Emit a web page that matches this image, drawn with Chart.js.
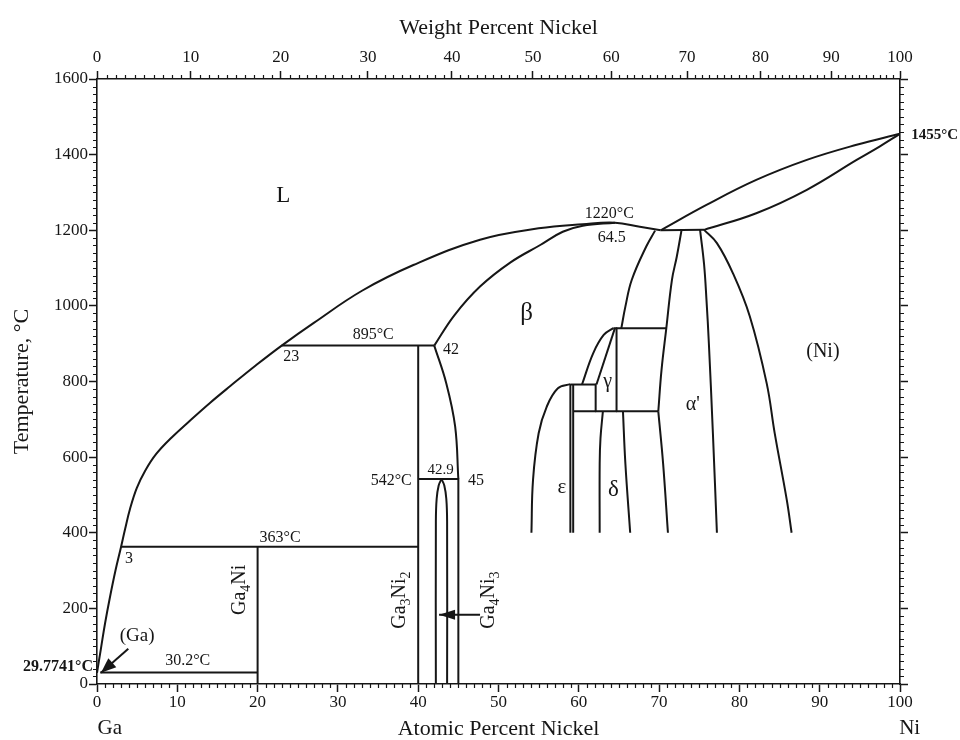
<!DOCTYPE html>
<html>
<head>
<meta charset="utf-8">
<title>Ga-Ni Phase Diagram</title>
<script src="https://cdn.jsdelivr.net/npm/chart.js@4.4.1/dist/chart.umd.min.js"></script>
<style>
  html, body { margin: 0; padding: 0; background: #ffffff; }
  #wrap { width: 960px; height: 740px; }
</style>
</head>
<body>
<div id="wrap"><canvas id="diagram" width="960" height="740"></canvas></div>
<script>
// ---- axis ticks ----
const atomicTickLabels = [0, 10, 20, 30, 40, 50, 60, 70, 80, 90, 100];
const weightTickLabels = [0, 10, 20, 30, 40, 50, 60, 70, 80, 90, 100];
const tempTickLabels = [0, 200, 400, 600, 800, 1000, 1200, 1400, 1600];

// ---- invariant points ----
const tGaMelt = 29.7741;
const tNiMelt = 1455;
const tEutectic = 30.2;
const tGa4Ni = 363;
const tGa3Ni2 = 895;
const tGa4Ni3 = 542;
const tBetaMax = 1220;
const xGa4Ni = 20;
const xGa3Ni2 = 40;
const xLiq363 = 3;
const xLiq895 = 23;
const xBeta895 = 42;
const xBeta542 = 45;
const xGa4Ni3 = 42.9;
const xBetaMax = 64.5;

// ---- phase boundaries [at.% Ni, °C] ----
const liquidusGaSide = [[0, tGaMelt], [0.5, 95], [1.0, 160], [1.6, 228], [2.3, 300], [xLiq363, tGa4Ni],
  [3.5, 410], [4.1, 462], [4.95, 518], [6.0, 564], [7.4, 609], [9.3, 652], [11.6, 697], [14.1, 744],
  [16.6, 788], [19.8, 843], [xLiq895, tGa3Ni2], [27, 955], [33, 1040], [39.4, 1108], [47.7, 1175],
  [55, 1205], [60.5, 1216], [xBetaMax, tBetaMax], [67.6, 1209], [70.2, 1200]];
const liquidusNiSide = [[70.2, 1200], [75.9, 1267], [82.1, 1333], [88.4, 1386], [94.6, 1426], [100, tNiMelt]];
const solidusNi = [[75.6, 1201], [82.1, 1245], [88.4, 1307], [94.6, 1386], [97.5, 1422], [100, tNiMelt]];
const betaSolidus = [[xBeta895, tGa3Ni2], [44.5, 975], [47.7, 1051], [51.5, 1115], [55.2, 1161],
  [58, 1196], [60.5, 1212], [xBetaMax, tBetaMax]];
const betaSolvusLow = [[xBeta895, tGa3Ni2], [43.5, 795], [44.6, 681], [xBeta542, tGa4Ni3]];
const betaEdge45 = [[xBeta542, tGa4Ni3], [xBeta542, 0]];
const ga3ni2Line = [[xGa3Ni2, 0], [xGa3Ni2, tGa3Ni2]];
const ga4niLine = [[xGa4Ni, 0], [xGa4Ni, tGa4Ni]];
const peritectic895 = [[xLiq895, tGa3Ni2], [xBeta895, tGa3Ni2]];
const peritectic363 = [[xLiq363, tGa4Ni], [xGa3Ni2, tGa4Ni]];
const eutectic30 = [[0.4, tEutectic], [xGa4Ni, tEutectic]];
const reaction542 = [[xGa3Ni2, tGa4Ni3], [xBeta542, tGa4Ni3]];
const ga4ni3Left = [[42.2, 0], [42.2, 430], [42.3, 490], [42.55, 525], [xGa4Ni3, tGa4Ni3]];
const ga4ni3Right = [[43.6, 0], [43.6, 430], [43.5, 490], [43.25, 525], [xGa4Ni3, tGa4Ni3]];
const reaction1200 = [[70.2, 1200], [75.6, 1201]];
const betaRight = [[69.5, 1199], [68.4, 1157], [66.6, 1069], [65.8, 998], [65.3, 941]];
const alphaLeftUpper = [[72.8, 1201], [72.2, 1130], [71.6, 1069], [70.9, 941], [70.3, 830], [69.9, 721]];
const alphaLeftLower = [[69.9, 721], [70.5, 583], [71.1, 400]];
const alphaRight = [[75.1, 1201], [75.6, 1110], [75.9, 1016], [76.2, 900], [76.7, 663], [77.2, 400]];
const niSolvus = [[75.6, 1201], [77.2, 1166], [79.2, 1086], [81.3, 972], [83.4, 795], [84.4, 663],
  [85.9, 487], [86.5, 400]];
const epsLeft = [[54.1, 400], [54.3, 540], [55.0, 663], [56.0, 733], [57.4, 782], [58.95, 793]];
const epsLineA = [[58.95, 400], [58.95, 793]];
const epsLineB = [[59.3, 400], [59.3, 792]];
const reaction792 = [[58.95, 792], [62.1, 792]];
const boxRight = [[62.1, 792], [62.1, 721]];
const reaction721 = [[59.3, 721], [69.9, 721]];
const gammaCurve = [[60.4, 792], [61.8, 875], [63.1, 923], [64.3, 941]];
const gammaDiagonal = [[62.2, 792], [64.5, 941]];
const gammaRight = [[64.7, 941], [64.7, 721]];
const reaction941 = [[64.3, 941], [70.9, 941]];
const deltaLeft = [[63.0, 721], [62.7, 650], [62.6, 583], [62.6, 400]];
const deltaRight = [[65.5, 721], [65.8, 583], [66.4, 400]];

// ---- label arrows ----
const arrowGa = [[3.9, 93], [0.5, 30]];
const arrowGa4Ni3 = [[47.7, 183], [42.6, 183]];

// ---- composition conversion for the weight-percent axis ----
const M_GA = 69.723, M_NI = 58.6934;
function wtToAt(w) {
  const a = w / M_NI, b = (100 - w) / M_GA;
  return 100 * a / (a + b);
}

const SERIF = '"Liberation Serif", "Times New Roman", Times, serif';
const INK = '#161616';

const toXY = arr => arr.map(([x, y]) => ({ x, y }));
const curved = [liquidusGaSide, liquidusNiSide, solidusNi, betaSolidus, betaSolvusLow, ga4ni3Left, ga4ni3Right,
  betaRight, alphaLeftUpper, alphaLeftLower, alphaRight, niSolvus, epsLeft, gammaCurve, deltaLeft, deltaRight];
const straight = [betaEdge45, ga3ni2Line, ga4niLine, peritectic895, peritectic363, eutectic30, reaction542,
  reaction1200, epsLineA, epsLineB, reaction792, boxRight, reaction721, gammaDiagonal, gammaRight, reaction941,
  arrowGa, arrowGa4Ni3];

const datasets = [];
curved.forEach(a => datasets.push({ data: toXY(a), tension: 0.4 }));
straight.forEach(a => datasets.push({ data: toXY(a), tension: 0 }));
datasets.forEach(d => Object.assign(d, {
  showLine: true, borderColor: INK, borderWidth: 2, pointRadius: 0, fill: false,
  borderCapStyle: 'butt', borderJoinStyle: 'round'
}));

// ---- drawing helpers ----
function text(ctx, s, px, py, size, opt = {}) {
  ctx.font = `${opt.bold ? 'bold ' : ''}${size}px ${SERIF}`;
  ctx.textAlign = opt.align || 'center';
  ctx.textBaseline = 'middle';
  ctx.fillText(s, px, py);
}
function formula(ctx, parts, px, py, size) {
  ctx.save();
  ctx.translate(px, py);
  ctx.rotate(-Math.PI / 2);
  const big = `${size}px ${SERIF}`, small = `${Math.round(size * 0.72)}px ${SERIF}`;
  let w = 0;
  parts.forEach(([t, sub]) => { ctx.font = sub ? small : big; w += ctx.measureText(t).width; });
  let x = -w / 2;
  ctx.textAlign = 'left';
  ctx.textBaseline = 'middle';
  parts.forEach(([t, sub]) => {
    ctx.font = sub ? small : big;
    ctx.fillText(t, x, sub ? size * 0.32 : 0);
    x += ctx.measureText(t).width;
  });
  ctx.restore();
}
function head(ctx, from, to, len, half) {
  const ang = Math.atan2(to.y - from.y, to.x - from.x);
  const c = Math.cos(ang), s = Math.sin(ang);
  ctx.beginPath();
  ctx.moveTo(to.x, to.y);
  ctx.lineTo(to.x - len * c - half * s, to.y - len * s + half * c);
  ctx.lineTo(to.x - len * c + half * s, to.y - len * s - half * c);
  ctx.closePath();
  ctx.fill();
}

// minor tick marks on all four sides
const minorTicks = {
  id: 'minorTicks',
  afterDraw(chart) {
    const { ctx, chartArea: a, scales } = chart;
    ctx.save();
    ctx.strokeStyle = INK;
    ctx.lineWidth = 1.2;
    ctx.beginPath();
    for (let v = 1; v < 100; v++) {
      if (v % 10 === 0) continue;
      const px = Math.round(scales.x.getPixelForValue(v)) + 0.5;
      ctx.moveTo(px, a.bottom); ctx.lineTo(px, a.bottom + 4);
    }
    for (let w = 1; w < 100; w++) {
      if (w % 10 === 0) continue;
      const px = Math.round(scales.x2.getPixelForValue(wtToAt(w))) + 0.5;
      ctx.moveTo(px, a.top); ctx.lineTo(px, a.top - 4);
    }
    for (let t = 20; t < 1600; t += 20) {
      if (t % 200 === 0) continue;
      const py = Math.round(scales.y.getPixelForValue(t)) + 0.5;
      ctx.moveTo(a.left, py); ctx.lineTo(a.left - 4, py);
      ctx.moveTo(a.right, py); ctx.lineTo(a.right + 4, py);
    }
    ctx.stroke();
    ctx.restore();
  }
};

// phase labels, invariant values and arrowheads
const annotations = {
  id: 'annotations',
  afterDraw(chart) {
    const { ctx } = chart;
    const X = v => chart.scales.x.getPixelForValue(v);
    const Y = v => chart.scales.y.getPixelForValue(v);
    ctx.save();
    ctx.fillStyle = INK;

    text(ctx, 'L', X(23.2), Y(1291), 23);
    text(ctx, 'β', X(53.5), Y(981), 25);
    text(ctx, '(Ni)', X(90.4), Y(878), 20);
    text(ctx, "α'", X(74.2), Y(738), 20);
    text(ctx, 'γ', X(63.6), Y(799), 20);
    text(ctx, 'ε', X(57.9), Y(521), 21);
    text(ctx, 'δ', X(64.3), Y(513), 23);
    text(ctx, '(Ga)', X(5.0), Y(127), 19);

    text(ctx, `${tBetaMax}°C`, X(63.8), Y(1243), 16);
    text(ctx, `${xBetaMax}`, X(64.1), Y(1180), 16);
    text(ctx, `${tEutectic}°C`, X(11.3), Y(61), 16);
    text(ctx, `${xLiq363}`, X(4.0), Y(331), 16);
    text(ctx, `${tGa4Ni}°C`, X(22.8), Y(386), 16);
    text(ctx, `${xLiq895}`, X(24.2), Y(865), 16);
    text(ctx, `${tGa3Ni2}°C`, X(34.4), Y(923), 16);
    text(ctx, `${xBeta895}`, X(44.1), Y(884), 16);
    text(ctx, `${tGa4Ni3}°C`, X(39.2), Y(537), 16, { align: 'right' });
    text(ctx, `${xGa4Ni3}`, X(42.8), Y(566), 15);
    text(ctx, `${xBeta542}`, X(47.2), Y(537), 16);

    text(ctx, `${tNiMelt}°C`, X(101.4), Y(1452), 15, { bold: true, align: 'left' });
    text(ctx, `${tGaMelt}°C`, X(-0.5), Y(45), 16, { bold: true, align: 'right' });

    text(ctx, 'Ga', X(1.6), 728, 21);
    text(ctx, 'Ni', X(101.2), 728, 21);

    formula(ctx, [['Ga', false], ['4', true], ['Ni', false]], X(17.8), Y(249), 20);
    formula(ctx, [['Ga', false], ['3', true], ['Ni', false], ['2', true]], X(37.7), Y(222), 20);
    formula(ctx, [['Ga', false], ['4', true], ['Ni', false], ['3', true]], X(48.8), Y(222), 20);

    [[arrowGa, 15, 6], [arrowGa4Ni3, 16, 5]].forEach(([arr, len, half]) => {
      const p0 = { x: X(arr[0][0]), y: Y(arr[0][1]) };
      const p1 = { x: X(arr[1][0]), y: Y(arr[1][1]) };
      head(ctx, p0, p1, len, half);
    });
    ctx.restore();
  }
};

const tickFont = { family: SERIF, size: 17 };
const titleFont = { family: SERIF, size: 22, lineHeight: 1 };
const gridOpts = { drawOnChartArea: false, drawTicks: true, tickLength: 8, color: INK, tickColor: INK, tickWidth: 1.5 };
const borderOpts = { display: true, color: INK, width: 1.6 };

new Chart(document.getElementById('diagram'), {
  type: 'scatter',
  data: { datasets },
  options: {
    responsive: false,
    animation: false,
    devicePixelRatio: 1,
    layout: { padding: 0 },
    plugins: { legend: { display: false }, tooltip: { enabled: false } },
    scales: {
      x: {
        type: 'linear', position: 'bottom', min: 0, max: 100,
        afterBuildTicks: s => { s.ticks = atomicTickLabels.map(v => ({ value: v })); },
        ticks: { color: INK, font: tickFont, padding: 0, maxRotation: 0, autoSkip: false,
          callback: v => String(v) },
        grid: gridOpts, border: borderOpts,
        title: { display: true, text: 'Atomic Percent Nickel', color: INK, font: titleFont, padding: { top: 0, bottom: 0 } },
        afterFit: s => { s.height = 56; }
      },
      x2: {
        type: 'linear', axis: 'x', position: 'top', min: 0, max: 100,
        afterBuildTicks: s => { s.ticks = weightTickLabels.map(w => ({ value: wtToAt(w) })); },
        ticks: { color: INK, font: tickFont, padding: 3, maxRotation: 0, autoSkip: false,
          callback: (v, i) => String(weightTickLabels[i]) },
        grid: gridOpts, border: borderOpts,
        title: { display: true, text: 'Weight Percent Nickel', color: INK, font: titleFont, padding: { top: 17, bottom: 0 } },
        afterFit: s => { s.height = 79; }
      },
      y: {
        type: 'linear', position: 'left', min: 0, max: 1600,
        afterBuildTicks: s => { s.ticks = tempTickLabels.map(v => ({ value: v })); },
        ticks: { color: INK, font: tickFont, padding: 1, autoSkip: false, callback: v => String(v) },
        grid: gridOpts, border: borderOpts,
        title: { display: true, text: 'Temperature, °C', color: INK, font: titleFont, padding: { top: 11, bottom: 0 } },
        afterFit: s => { s.width = 97; }
      },
      y2: {
        type: 'linear', axis: 'y', position: 'right', min: 0, max: 1600,
        afterBuildTicks: s => { s.ticks = tempTickLabels.map(v => ({ value: v })); },
        ticks: { display: false },
        grid: gridOpts, border: borderOpts,
        afterFit: s => { s.width = 60; }
      }
    }
  },
  plugins: [minorTicks, annotations]
});
</script>
</body>
</html>
